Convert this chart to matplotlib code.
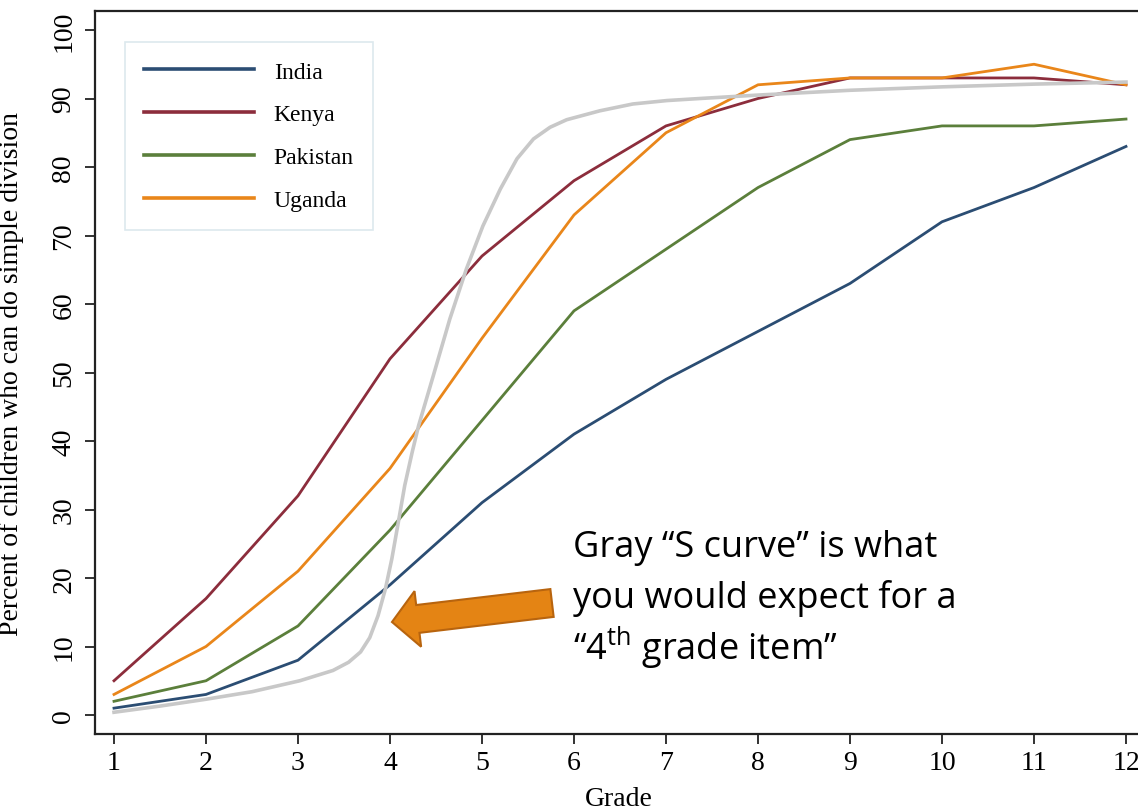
import matplotlib
matplotlib.use("Agg")
import matplotlib.pyplot as plt
from matplotlib.patches import FancyArrow
from matplotlib.transforms import IdentityTransform

plt.rcParams['mathtext.fontset'] = 'custom'
plt.rcParams['mathtext.rm'] = 'Open Sans'

# values
grades = [1, 2, 3, 4, 5, 6, 7, 8, 9, 10, 11, 12]
india = [1, 3, 8, 19, 31, 41, 49, 56, 63, 72, 77, 83]
kenya = [5, 17, 32, 52, 67, 78, 86, 90, 93, 93, 93, 92]
pakistan = [2, 5, 13, 27, 43, 59, 68, 77, 84, 86, 86, 87]
uganda = [3, 10, 21, 36, 55, 73, 85, 92, 93, 93, 95, 92]

# gray "S curve"
s_grade = [1.0, 1.5, 2.0, 2.5, 3.02, 3.38, 3.55, 3.68, 3.78, 3.87, 3.95, 4.02, 4.09,
           4.16, 4.24, 4.31, 4.47, 4.65, 4.83, 5.01, 5.20, 5.38, 5.56, 5.74,
           5.92, 6.28, 6.64, 7.01, 7.37, 8.0, 9.0, 10.0, 11.0, 12.0]
s_value = [0.4, 1.3, 2.3, 3.4, 5.0, 6.5, 7.7, 9.2, 11.3, 14.5, 18.4, 22.8, 28.1,
           33.5, 38.3, 42.2, 49.5, 57.8, 65.1, 71.4, 76.8, 81.2, 84.1, 85.8,
           86.9, 88.2, 89.2, 89.7, 90.0, 90.5, 91.2, 91.7, 92.1, 92.4]

names = ['India', 'Kenya', 'Pakistan', 'Uganda']
colors = ['#2b4d73', '#8c2d3c', '#5b7f3b', '#e9861a']

W, H = 1138, 812
fig = plt.figure(figsize=(W / 100, H / 100), dpi=100)
ax = fig.add_axes([95 / W, 77 / H, (1165 - 95) / W, (735 - 12) / H])

serif = 'Liberation Serif'

for vals, name, c in zip([india, kenya, pakistan, uganda], names, colors):
    ax.plot(grades, vals, color=c, lw=2.0, label=name)
ax.plot(s_grade, s_value, color='#c8c8c8', lw=2.6, zorder=5, solid_joinstyle='round')

ax.set_xlim(1 - 19 / 92, 12 + 39 / 92)
ax.set_ylim(-19 / 6.85, 100 + 19 / 6.85)
ax.set_xticks(grades)
ax.set_yticks(range(0, 101, 10))

for s in ax.spines.values():
    s.set_linewidth(1.6)
    s.set_color('#222222')

ax.tick_params(axis='both', length=7.5, width=1.3, color='#222222', labelsize=20)
ax.tick_params(axis='x', pad=4)
ax.tick_params(axis='y', pad=6)
for lab in ax.get_xticklabels():
    lab.set_family(serif)
for lab in ax.get_yticklabels():
    lab.set_family(serif)
    lab.set_rotation(90)
    lab.set_va('center')

ax.set_xlabel('Grade', family=serif, fontsize=20)
ax.set_ylabel('Percent of children who can do simple division', family=serif, fontsize=20)
ax.xaxis.set_label_coords((619 - 95) / 1070, -0.072)
ax.yaxis.set_label_coords(-0.066, 0.5)

leg = ax.legend(loc='upper left', bbox_to_anchor=(0.028, 0.957), borderaxespad=0,
                prop={'family': serif, 'size': 17}, handlelength=4.65, handletextpad=0.85,
                labelspacing=0.9, borderpad=0.8, fancybox=False, framealpha=1,
                edgecolor='#dde9ee')
leg.get_frame().set_linewidth(1.2)
for line in leg.get_lines():
    line.set_linewidth(2.6)

# orange block arrow pointing at the gray curve
arrow = FancyArrow(552, H - 604, -160, -19, width=28, head_width=56, head_length=26,
                   length_includes_head=True, transform=IdentityTransform(),
                   facecolor='#e48414', edgecolor='#b8640e', linewidth=1.5)
fig.add_artist(arrow)

note_lines = ['Gray \u201cS curve\u201d is what',
              'you would expect for a',
              '\u201c4$^{\\rm th}$ grade item\u201d']
for line, base in zip(note_lines, [557, 608, 660]):
    fig.text(573 / W, (H - base) / H, line, family='Open Sans', fontsize=26,
             va='baseline', ha='left', color='black')

fig.savefig('out.png', dpi=100)
